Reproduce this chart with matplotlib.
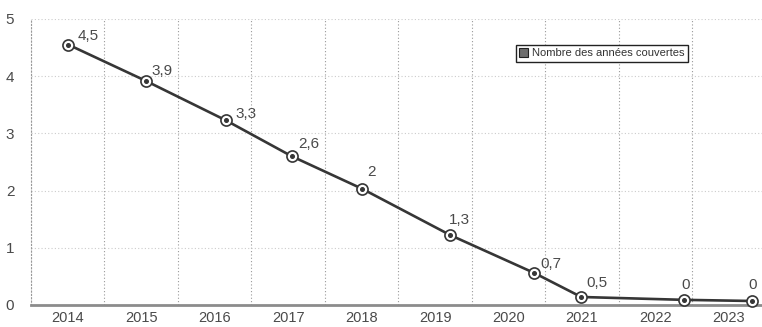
import numpy as np
import matplotlib.pyplot as plt
from matplotlib.patches import Patch

plt.rcParams["font.family"] = ["Liberation Sans Narrow", "Liberation Sans", "DejaVu Sans"]

# Data
years = ["2014", "2015", "2016", "2017", "2018", "2019", "2020", "2021", "2022", "2023"]
# where each point sits along the year axis (the scan is a bit skewed)
x_pos = [0.01, 1.06, 2.15, 3.05, 4.01, 5.21, 6.35, 6.99, 8.39, 9.32]
# plotted height of each point
y_val = [4.55, 3.92, 3.23, 2.60, 2.03, 1.22, 0.56, 0.14, 0.09, 0.07]
# printed labels
labels = ["4,5", "3,9", "3,3", "2,6", "2", "1,3", "0,7", "0,5", "0", "0"]
series_name = "Nombre des années couvertes"

# label offsets in points, centre of text relative to the point (style only)
offsets = [(14, 6.5), (11.5, 7), (14.5, 4.5), (12, 8.5), (6.5, 12),
           (6.5, 11), (12, 6.5), (11.5, 10), (1, 11), (0, 11.5)]

fig = plt.figure(figsize=(7.62, 3.27), dpi=100)
ax = fig.add_axes([31 / 762, 22 / 327, 731 / 762, 286 / 327])

line_col = "#363636"
text_col = "#4a4a4a"

# Grid: dotted vertical separators between years, faint horizontal lines
ax.set_xlim(-0.5, 9.45)
ax.set_ylim(0, 5)
ax.set_xticks(np.arange(len(years)))
ax.set_xticklabels(years)
ax.set_xticks(np.arange(len(years)) - 0.5, minor=True)
ax.set_yticks(range(0, 6))
ax.grid(which="minor", axis="x", linestyle=(0, (1, 2)), color="#999999", linewidth=0.8)
ax.grid(which="major", axis="y", linestyle=(0, (1, 2)), color="#cccccc", linewidth=0.8)
ax.tick_params(which="both", length=0)
ax.tick_params(axis="x", pad=4, labelsize=10.5, labelcolor=text_col)
ax.tick_params(axis="y", pad=12, labelsize=11, labelcolor=text_col)

for s in ["top", "right"]:
    ax.spines[s].set_visible(False)
ax.spines["left"].set_linestyle((0, (1, 2)))
ax.spines["left"].set_color("#999999")
ax.spines["left"].set_linewidth(0.8)
ax.spines["bottom"].set_color("#8c8c8c")
ax.spines["bottom"].set_linewidth(2)

# Line with bullseye markers
ax.plot(x_pos, y_val, color=line_col, linewidth=1.9, zorder=3, clip_on=False)
ax.plot(x_pos, y_val, "o", markersize=8, markerfacecolor="white",
        markeredgecolor=line_col, markeredgewidth=1.2, zorder=4, clip_on=False)
ax.plot(x_pos, y_val, "o", markersize=2.6, color=line_col, zorder=5, clip_on=False)

for x, y, lab, off in zip(x_pos, y_val, labels, offsets):
    ax.annotate(lab, (x, y), xytext=off, textcoords="offset points",
                ha="center", va="center", fontsize=11, color=text_col)

handle = Patch(facecolor="#6e6e6e", edgecolor="#222222", linewidth=0.8)
ax.legend([handle], [series_name], loc="upper left", bbox_to_anchor=(0.663, 0.91),
          frameon=True, fancybox=False, edgecolor="#222222", framealpha=1,
          fontsize=8, handlelength=0.8, handleheight=0.8, handletextpad=0.4,
          borderpad=0.3, borderaxespad=0, labelcolor="#333333")

fig.savefig("out.png", dpi=100)
